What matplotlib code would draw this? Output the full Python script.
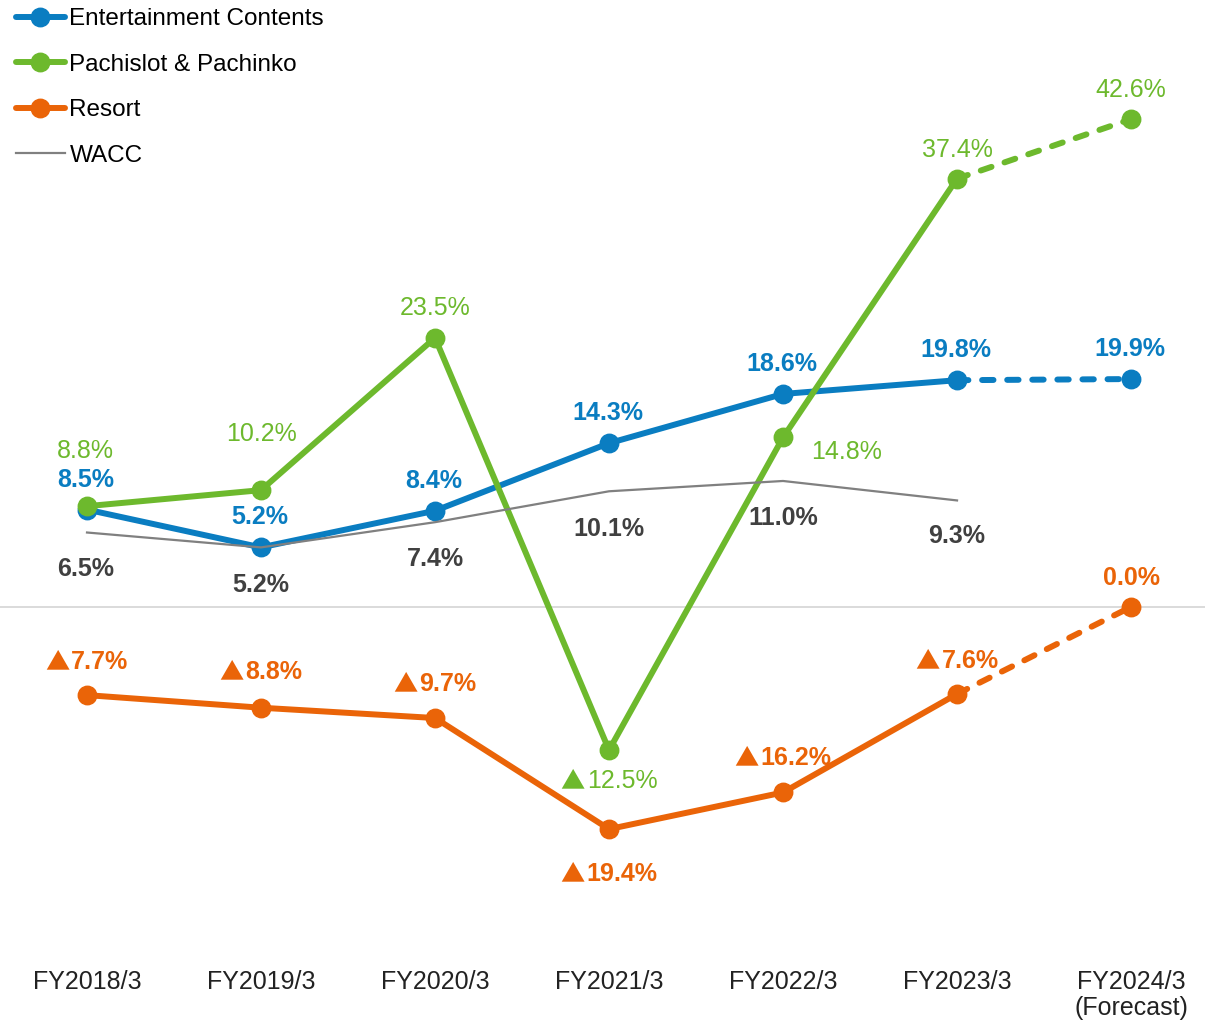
import numpy as np
import matplotlib
matplotlib.use("Agg")
import matplotlib.pyplot as plt

plt.rcParams['font.family'] = ['Liberation Sans', 'DejaVu Sans']

years = ["FY2018/3", "FY2019/3", "FY2020/3", "FY2021/3", "FY2022/3", "FY2023/3", "FY2024/3\n(Forecast)"]
entertainment = [8.5, 5.2, 8.4, 14.3, 18.6, 19.8, 19.9]
pachislot = [8.8, 10.2, 23.5, -12.5, 14.8, 37.4, 42.6]
resort = [-7.7, -8.8, -9.7, -19.4, -16.2, -7.6, 0.0]
wacc = [6.5, 5.2, 7.4, 10.1, 11.0, 9.3]

BLUE = "#0A7DC1"
GREEN = "#6DB92D"
ORANGE = "#EA6408"
GRAY = "#808080"
DARK = "#404040"

LABEL_SIZE = 18
TRI_SIZE = 17.5
TRI_GAP = 1.2

fig = plt.figure(figsize=(12.05, 10.22), dpi=100)
ax = fig.add_axes([0, 62 / 1022, 1, 960 / 1022])
ax.set_xlim(-0.5, 6.425)
ax.set_ylim(-30.83, 53.0)
for s in ax.spines.values():
    s.set_visible(False)
ax.set_yticks([])
ax.set_xticks(range(len(years)))
ax.set_xticklabels(years, fontsize=18, color="#222222", linespacing=1.1)
ax.tick_params(axis="x", length=0, pad=7)

ax.axhline(0, color="#D4D4D4", lw=1.2, zorder=1)

x = np.arange(len(years))
lw = 4.3
ms = 13.3

handles = []
for z, (name, vals, col) in enumerate([("Entertainment Contents", entertainment, BLUE),
                                       ("Pachislot & Pachinko", pachislot, GREEN),
                                       ("Resort", resort, ORANGE)]):
    h, = ax.plot(x[:6], vals[:6], color=col, lw=lw, marker="o", ms=ms,
                 solid_capstyle="round", zorder=3 + z * 0.1, label=name)
    # forecast segment is dashed
    ax.plot(x[5:], vals[5:], color=col, lw=lw, dashes=(1.9, 2.3),
            dash_capstyle="round", zorder=3 + z * 0.1)
    ax.plot(x[6], vals[6], color=col, marker="o", ms=ms, zorder=3 + z * 0.1)
    handles.append(h)

h_wacc, = ax.plot(x[:len(wacc)], wacc, color=GRAY, lw=1.6, zorder=3.5, label="WACC")
handles.append(h_wacc)

# label offsets in points (dx, dy) from the point to the label centre
blue_off = [(-1, 23)] * 7
green_off = [(-1, 41), (0, 42), (0, 23), (0, -21), (46, -9), (0, 22), (0, 22)]
orange_off = [(0, 25), (0, 27), (0, 26), (0, -31), (0, 26), (0, 25), (0, 22)]
wacc_off = [(-1, -25), (0, -26), (0, -25), (0, -26), (0, -25), (0, -24)]

base = LABEL_SIZE * 0.716 / 2  # centre -> baseline
pending = []
for vals, offs, col, weight in [(entertainment, blue_off, BLUE, "bold"),
                                (pachislot, green_off, GREEN, "normal"),
                                (resort, orange_off, ORANGE, "bold"),
                                (wacc, wacc_off, DARK, "bold")]:
    for i, v in enumerate(vals):
        dx, dy = offs[i]
        t = ax.annotate("{:.1f}%".format(abs(v)), (x[i], v), xytext=(dx, dy - base),
                        textcoords="offset points", ha="center", va="baseline",
                        fontsize=LABEL_SIZE, color=col, fontweight=weight, zorder=5)
        if v < 0:
            # negative values get a triangle in front instead of a minus sign
            tri = ax.annotate("\u25b2", (x[i], v), xytext=(dx, dy - base),
                              textcoords="offset points", ha="left", va="baseline",
                              fontsize=TRI_SIZE, color=col, zorder=5,
                              family=["Noto Sans CJK JP", "DejaVu Sans"])
            pending.append((t, tri, dx, dy - base))

fig.canvas.draw()
r = fig.canvas.get_renderer()
for t, tri, dx, y0 in pending:
    wn = t.get_window_extent(r).width * 72 / fig.dpi
    wt = tri.get_window_extent(r).width * 72 / fig.dpi + TRI_GAP
    left = dx - (wn + wt) / 2
    tri.xyann = (left, y0)
    t.set_ha("left")
    t.xyann = (left + wt, y0)

ax.legend(handles=handles, loc="upper left", bbox_to_anchor=(16 / 1205, 1 - 8 / 1022),
          bbox_transform=fig.transFigure, frameon=False, fontsize=17.5,
          handlelength=2.0, handletextpad=0.2, labelspacing=0.97,
          borderpad=0, borderaxespad=0)

fig.savefig("out.png", dpi=100)
